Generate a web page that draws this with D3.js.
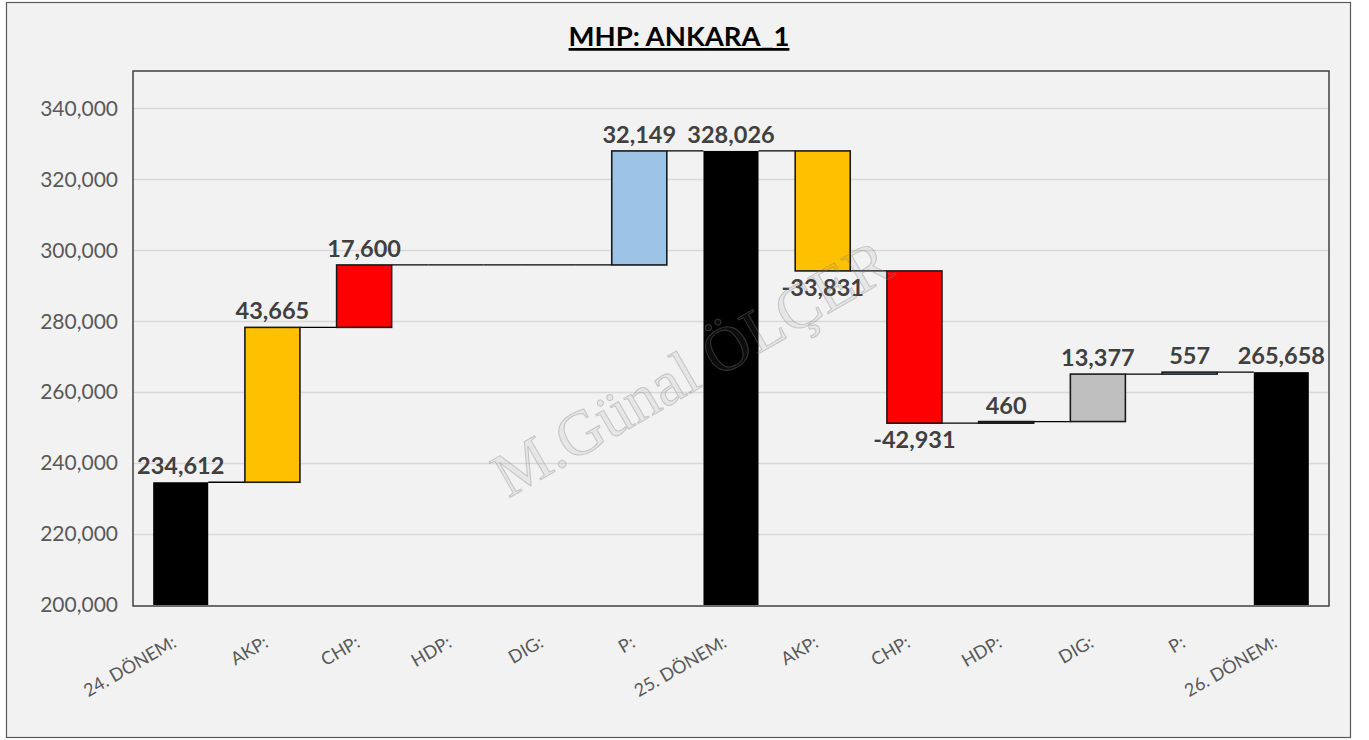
<!DOCTYPE html>
<html>
<head>
<meta charset="utf-8">
<script src="https://cdn.jsdelivr.net/npm/d3@7"></script>
<style>
  html, body { margin: 0; padding: 0; background: #ffffff; }
  svg { display: block; }
</style>
</head>
<body>
<svg id="chart" width="1369" height="740"></svg>
<script>
// ---- data ----
const categories = ["24. DÖNEM:", "AKP:", "CHP:", "HDP:", "DIG:", "P:", "25. DÖNEM:", "AKP:", "CHP:", "HDP:", "DIG:", "P:", "26. DÖNEM:"];
const values = [234612, 43665, 17600, 0, 0, 32149, 328026, -33831, -42931, 460, 13377, 557, 265658];
const isTotal = [true, false, false, false, false, false, true, false, false, false, false, false, true];
const barColors = ["#000000", "#FFC000", "#FF0000", "#7030A0", "#BFBFBF", "#9DC3E6", "#000000", "#FFC000", "#FF0000", "#7030A0", "#BFBFBF", "#9DC3E6", "#000000"];
const yTicks = [200000, 220000, 240000, 260000, 280000, 300000, 320000, 340000];
const titleText = "MHP: ANKARA_1";
const watermarkText = "M.Günal ÖLÇER";

// ---- build waterfall steps ----
let running = 0;
const steps = values.map((v, i) => {
  let start, end;
  if (isTotal[i]) { start = 200000; end = v; running = v; }
  else { start = running; end = running + v; running = end; }
  return { i, cat: categories[i], v, start, end, total: isTotal[i], color: barColors[i] };
});

const fmt = v => d3.format(",")(v).replace("\u2212", "-");

const svg = d3.select("#chart");
const W = 1369, H = 740;
const plot = { left: 133, right: 1329, top: 71, bottom: 606 };

// outer background / frame
svg.append("rect").attr("x", 0).attr("y", 0).attr("width", W).attr("height", H).attr("fill", "#ffffff");
svg.append("rect").attr("x", 6.5).attr("y", 2.5).attr("width", 1344).attr("height", 735)
  .attr("fill", "#f2f2f2").attr("stroke", "#595959").attr("stroke-width", 1.2);

const x = d3.scaleBand().domain(d3.range(categories.length))
  .range([plot.left, plot.right]).paddingInner(0.4).paddingOuter(0.22);
const y = d3.scaleLinear().domain([200000, 350000]).range([605, 73]);

const font = "Lato, 'Open Sans', Calibri, sans-serif";

// gridlines
svg.append("g").selectAll("line").data(yTicks.filter(t => t > 200000)).join("line")
  .attr("x1", plot.left).attr("x2", plot.right)
  .attr("y1", d => Math.round(y(d)) + 0.5).attr("y2", d => Math.round(y(d)) + 0.5)
  .attr("stroke", "#d9d9d9").attr("stroke-width", 1.3);

// y axis labels via d3 axis
const yAxis = d3.axisLeft(y).tickValues(yTicks).tickFormat(d3.format(",")).tickSize(0).tickPadding(15);
const gy = svg.append("g").attr("transform", `translate(${plot.left},0)`).call(yAxis);
gy.select(".domain").remove();
gy.selectAll("text").attr("font-family", font).attr("font-size", 21).attr("fill", "#595959");

// x axis labels
const xAxis = d3.axisBottom(x).tickFormat(i => categories[i]).tickSize(0).tickPadding(0);
const gx = svg.append("g").attr("transform", `translate(0,${plot.bottom})`).call(xAxis);
gx.select(".domain").remove();
gx.selectAll("text")
  .attr("font-family", font).attr("font-size", 18).attr("fill", "#595959")
  .attr("text-anchor", "end")
  .attr("dy", 0).attr("y", 0)
  .attr("transform", "translate(-3,40) rotate(-30)");

// connectors
const conn = steps.slice(0, -1).map((s, k) => ({ x1: x(k) + x.bandwidth(), x2: x(k + 1), lvl: s.end }));
svg.append("g").selectAll("line").data(conn).join("line")
  .attr("x1", d => d.x1).attr("x2", d => d.x2)
  .attr("y1", d => y(d.lvl)).attr("y2", d => y(d.lvl))
  .attr("stroke", "#000").attr("stroke-width", 1.3);

// zero-value steps drawn as flat outlines
svg.append("g").selectAll("line").data(steps.filter(s => s.v === 0)).join("line")
  .attr("x1", d => x(d.i)).attr("x2", d => x(d.i) + x.bandwidth())
  .attr("y1", d => y(d.end)).attr("y2", d => y(d.end))
  .attr("stroke", "#000").attr("stroke-width", 1.3);

// bars
svg.append("g").selectAll("rect").data(steps.filter(s => s.v !== 0)).join("rect")
  .attr("x", d => x(d.i)).attr("width", x.bandwidth())
  .attr("y", d => y(Math.max(d.start, d.end)))
  .attr("height", d => Math.abs(y(d.start) - y(d.end)))
  .attr("fill", d => d.color)
  .attr("stroke", d => d.total ? "none" : "#1a1a1a").attr("stroke-width", 1.6);

// data labels
svg.append("g").selectAll("text").data(steps.filter(s => s.v !== 0)).join("text")
  .text(d => fmt(d.v))
  .attr("x", d => x(d.i) + x.bandwidth() / 2)
  .attr("y", d => d.v < 0 && !d.total ? y(d.end) + 25 : y(d.end) - 8)
  .attr("text-anchor", "middle")
  .attr("font-family", font).attr("font-weight", "bold").attr("font-size", 23.5)
  .attr("fill", "#404040");

// watermark (semi-transparent overlay)
svg.append("text").text(watermarkText)
  .attr("transform", "translate(695,374) rotate(-30)")
  .attr("text-anchor", "middle").attr("dominant-baseline", "middle")
  .attr("font-family", "'Liberation Serif', 'DejaVu Serif', serif")
  .attr("font-size", 63)
  .attr("fill", "#808080").attr("fill-opacity", 0.1)
  .attr("stroke", "#808080").attr("stroke-opacity", 0.35).attr("stroke-width", 1.1);

// plot frame
svg.append("rect").attr("x", plot.left).attr("y", plot.top)
  .attr("width", plot.right - plot.left).attr("height", plot.bottom - plot.top)
  .attr("fill", "none").attr("stroke", "#404040").attr("stroke-width", 1.5);

// title
svg.append("text").text(titleText)
  .attr("x", 679).attr("y", 46).attr("text-anchor", "middle")
  .attr("font-family", font).attr("font-weight", "bold").attr("font-size", 27.5)
  .attr("text-decoration", "underline").attr("fill", "#000");
</script>
</body>
</html>
